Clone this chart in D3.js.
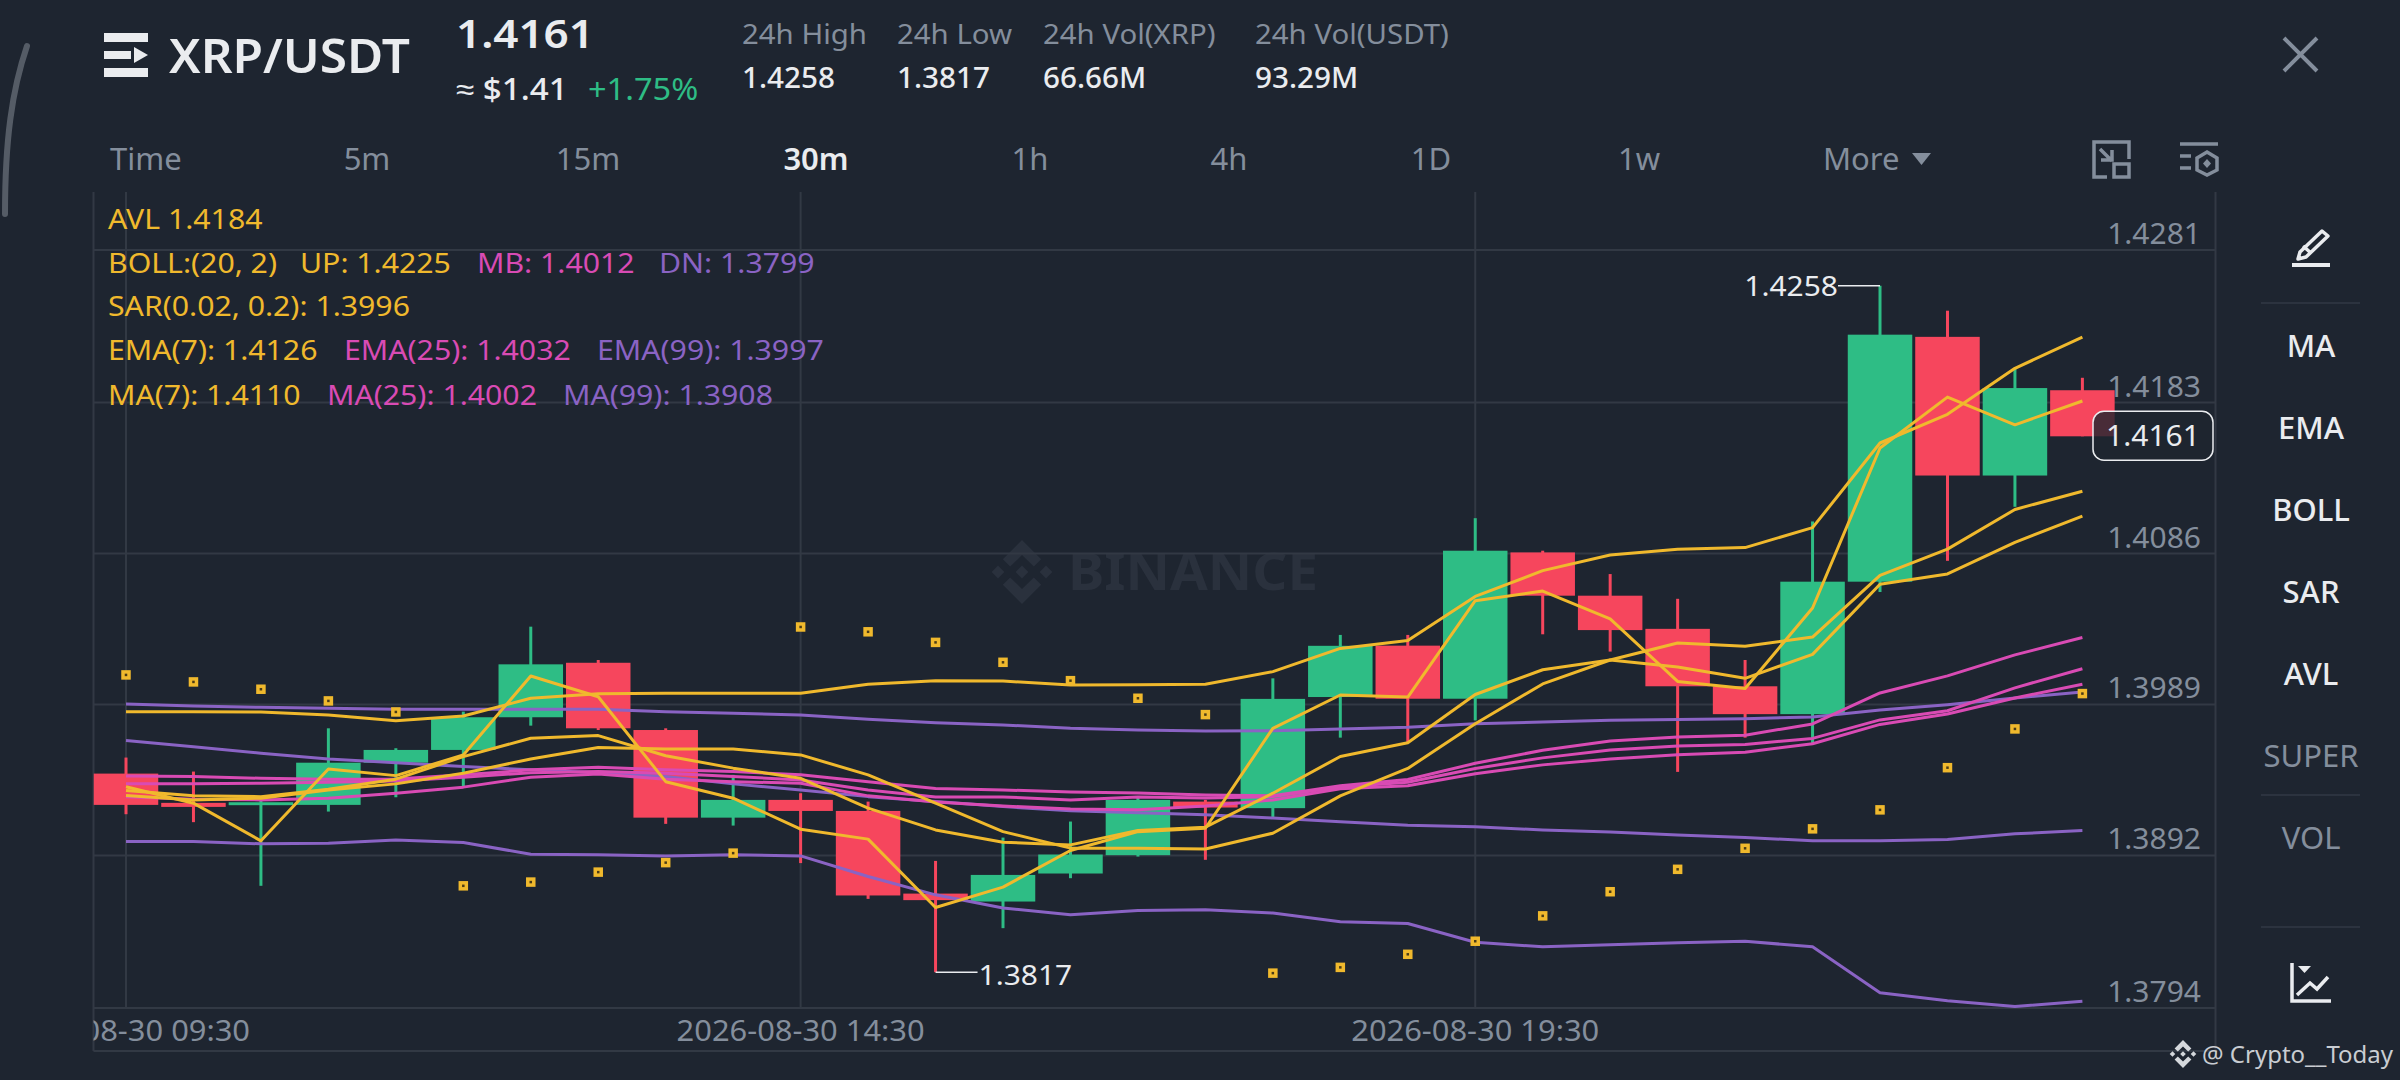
<!DOCTYPE html>
<html>
<head>
<meta charset="utf-8">
<script src="https://cdn.jsdelivr.net/npm/d3@7"></script>
<style>
  html, body { margin: 0; padding: 0; background: #1e2530; overflow: hidden; }
  svg { display: block; font-family: "Noto Sans", sans-serif; }
</style>
</head>
<body>
<svg width="2400" height="1080"></svg>
<script>
// candles, 30m, index 0 is 09:30
const candleOpen = [1.39446,1.39258,1.39243,1.39245,1.39516,1.39598,1.39808,1.40158,1.39726,1.39163,1.39277,1.39206,1.38675,1.38624,1.38804,1.38922,1.39266,1.39224,1.39938,1.40268,1.39927,1.40867,1.40589,1.40376,1.40007,1.39828,1.40679,1.42252,1.41361,1.41909];
const candleClose = [1.39245,1.39232,1.39262,1.39516,1.39598,1.39808,1.40148,1.39737,1.39163,1.39277,1.39206,1.38663,1.38633,1.38795,1.38926,1.39277,1.39228,1.39926,1.40267,1.39927,1.40878,1.40589,1.40368,1.40007,1.39828,1.40679,1.42266,1.41361,1.41923,1.41613];
const candleHigh = [1.39549,1.39459,1.39277,1.39737,1.39609,1.39844,1.4039,1.40176,1.39737,1.39438,1.3932,1.39266,1.38885,1.39035,1.39138,1.39298,1.39277,1.40058,1.40337,1.40337,1.41087,1.40878,1.40728,1.40569,1.40176,1.41066,1.4258,1.4242,1.4205,1.41989];
const candleLow = [1.39185,1.39134,1.38725,1.39202,1.39294,1.39359,1.39754,1.39726,1.39123,1.39112,1.38871,1.38641,1.3817,1.38453,1.38774,1.38913,1.38892,1.3916,1.39677,1.39649,1.39788,1.40341,1.4023,1.39457,1.39677,1.39638,1.40612,1.40813,1.4116,1.41613];

// indicators
const bollUp = [1.39844,1.39844,1.39842,1.39823,1.39786,1.39816,1.3993,1.39959,1.39962,1.39962,1.39962,1.4002,1.40043,1.40041,1.40015,1.40017,1.4002,1.40101,1.4025,1.40301,1.40584,1.4075,1.4085,1.40888,1.40898,1.41026,1.4157,1.41754,1.4205,1.4225];
const avl = [1.39362,1.39256,1.39014,1.39476,1.39433,1.39566,1.40073,1.3994,1.39394,1.39288,1.39089,1.39025,1.38586,1.38717,1.38952,1.39073,1.39095,1.39737,1.39951,1.39938,1.40557,1.40619,1.4044,1.40038,1.39993,1.4051,1.41538,1.41865,1.41687,1.4184];
const ma7 = [1.39337,1.39303,1.39298,1.39346,1.3941,1.39555,1.39673,1.3969,1.39561,1.39481,1.39416,1.39224,1.39084,1.39005,1.38988,1.3908,1.39102,1.3932,1.39556,1.39644,1.39954,1.40113,1.40176,1.40131,1.40058,1.40212,1.40662,1.40729,1.40932,1.4110];
const ema7 = [1.39305,1.39277,1.39288,1.39341,1.3938,1.39448,1.3954,1.39613,1.39604,1.39604,1.39566,1.39438,1.39256,1.39073,1.38967,1.38967,1.38962,1.39063,1.39303,1.39479,1.39766,1.40022,1.40176,1.40285,1.40264,1.40323,1.40719,1.40888,1.41143,1.4126];
const ema25 = [1.39431,1.39427,1.39416,1.3941,1.39412,1.39438,1.3947,1.39487,1.3947,1.39459,1.39438,1.39393,1.3935,1.39341,1.39328,1.39322,1.39309,1.39303,1.39368,1.39408,1.39512,1.39596,1.39656,1.39681,1.39693,1.39765,1.39964,1.40074,1.40209,1.4032];
const bollMb = [1.3938,1.3938,1.39384,1.39391,1.39399,1.39423,1.39452,1.39459,1.39448,1.39427,1.39405,1.39341,1.39296,1.39296,1.39277,1.39296,1.3929,1.39298,1.3936,1.3939,1.39479,1.39547,1.39598,1.39624,1.39633,1.39672,1.39791,1.3985,1.39997,1.4012];
const ma25 = [1.39298,1.39281,1.39277,1.39288,1.3932,1.39359,1.39423,1.39444,1.3941,1.39394,1.39384,1.39303,1.39264,1.39238,1.39219,1.39213,1.39238,1.39277,1.39348,1.39368,1.39445,1.39502,1.3954,1.39567,1.39583,1.39638,1.39762,1.39829,1.39932,1.4002];
const ma99 = [1.39658,1.39619,1.39577,1.3954,1.39516,1.39491,1.3947,1.39452,1.39427,1.3938,1.39341,1.39298,1.39266,1.39234,1.39208,1.39195,1.39181,1.3916,1.39136,1.39114,1.39104,1.39084,1.3907,1.39052,1.39036,1.39014,1.39014,1.39023,1.39059,1.3908];
const ema99 = [1.39893,1.3988,1.39872,1.39866,1.39859,1.39859,1.39859,1.39859,1.39844,1.39834,1.39823,1.39795,1.39773,1.39759,1.39737,1.39726,1.3972,1.39722,1.39733,1.39744,1.39766,1.39778,1.39788,1.39794,1.39799,1.3981,1.39855,1.39889,1.39932,1.3997];
const bollDn = [1.39009,1.39009,1.38995,1.38999,1.3902,1.39003,1.38928,1.38924,1.38917,1.38924,1.38917,1.38785,1.38667,1.38582,1.38539,1.38566,1.38571,1.3855,1.38494,1.38483,1.38362,1.38333,1.38346,1.38359,1.38369,1.38333,1.38038,1.37987,1.37949,1.37983];
const sar = [1.4008,1.40035,1.39988,1.39913,1.39842,1.38725,1.38749,1.38813,1.38874,1.38935,1.40388,1.40357,1.40289,1.40161,1.40043,1.3993,1.39825,1.38164,1.38201,1.38285,1.38369,1.38532,1.38687,1.38831,1.38966,1.39091,1.39213,1.39484,1.39733,1.3996];

const priceTicks = [1.4281, 1.4183, 1.4086, 1.3989, 1.3892, 1.3794];
const timeTickIndex = [0, 10, 20];
const timeTickLabels = ["2026-08-30 09:30", "2026-08-30 14:30", "2026-08-30 19:30"];
const timeframes = ["5m", "15m", "30m", "1h", "4h", "1D", "1w"];
const statLabels = ["24h High", "24h Low", "24h Vol(XRP)", "24h Vol(USDT)"];
const statValues = ["1.4258", "1.3817", "66.66M", "93.29M"];
const sideButtons = ["MA", "EMA", "BOLL", "SAR", "AVL", "SUPER", "VOL"];

const green = "#2ebd85", red = "#f6465d";
const yellow = "#f0b92d", pink = "#d94bb4", purple = "#8a63c4";
const grey = "#848e9c", white = "#eaecef", grid = "#323944";

const svg = d3.select("svg");

const x = d3.scaleLinear().domain([0, 29]).range([126, 2082.4]);
const y = d3.scaleLinear().domain([1.3794, 1.4281]).range([1008, 250]);

const plotLeft = 93.5, plotRight = 2215.5, plotTop = 192, plotBottom = 1008, axisBottom = 1051;
const candleWidth = 64.5;

svg.append("defs").append("clipPath").attr("id", "plot-clip")
  .append("rect")
  .attr("x", plotLeft).attr("y", 0)
  .attr("width", plotRight - plotLeft).attr("height", 1080);

// the screenshot is a little wider than tall, so text gets an x stretch
function addText(g, txt, px, py, size, fill, weight, anchor, stretch) {
  return g.append("text")
    .attr("transform", `translate(${px},${py}) scale(${stretch || 1},1)`)
    .attr("font-size", size)
    .attr("font-weight", weight || 400)
    .attr("text-anchor", anchor || "start")
    .attr("fill", fill)
    .text(txt);
}

function drawLogo(g, cx, cy, r, color) {
  const shapes = [
    "M0,-.2L.2,0L0,.2L-.2,0Z",
    "M-.75,-.2L-.55,0L-.75,.2L-.95,0Z",
    "M.75,-.2L.95,0L.75,.2L.55,0Z",
    "M0,-1L.6,-.4L.37,-.17L0,-.53L-.37,-.17L-.6,-.4Z",
    "M0,1L.6,.4L.37,.17L0,.53L-.37,.17L-.6,.4Z"
  ];
  g.append("g")
    .attr("transform", `translate(${cx},${cy}) scale(${r})`)
    .selectAll("path").data(shapes).join("path")
    .attr("d", d => d).attr("fill", color);
}

// left edge handle
svg.append("path")
  .attr("d", "M27,46C12,90 5,140 5,214")
  .attr("fill", "none").attr("stroke", "#555c66").attr("stroke-width", 6).attr("stroke-linecap", "round");

// header
const header = svg.append("g");
header.append("rect").attr("x", 104).attr("y", 33).attr("width", 44).attr("height", 9).attr("fill", white);
header.append("rect").attr("x", 104).attr("y", 51).attr("width", 27).attr("height", 8).attr("fill", white);
header.append("path").attr("d", "M134,47L148,55L134,63Z").attr("fill", white);
header.append("rect").attr("x", 104).attr("y", 68).attr("width", 44).attr("height", 9).attr("fill", white);
addText(header, "XRP/USDT", 169, 73, 47, white, 600, "start", 1.055);
addText(header, "1.4161", 456, 48, 40, white, 600, "start", 1.1);
addText(header, "≈ $1.41", 456, 100, 31, white, 500, "start", 1.07);
addText(header, "+1.75%", 588, 100, 31, green, 400, "start", 1.05);

const statX = [742, 897, 1043, 1255];
statLabels.forEach((d, i) => {
  addText(header, d, statX[i], 44, 28, grey, 400, "start", 1.05);
  addText(header, statValues[i], statX[i], 88, 28, white, 500, "start", 1.06);
});

header.append("path").attr("d", "M2284,38L2317,71M2317,38L2284,71")
  .attr("stroke", grey).attr("stroke-width", 4).attr("fill", "none");

// timeframe row
const tabs = svg.append("g");
addText(tabs, "Time", 110, 170, 31, grey);
const tabX = [367, 588, 816, 1030, 1229, 1431, 1639];
timeframes.forEach((d, i) => {
  const active = d === "30m";
  addText(tabs, d, tabX[i], 170, 31, active ? white : grey, active ? 600 : 400, "middle");
});
addText(tabs, "More", 1823, 170, 31, grey);
tabs.append("path").attr("d", "M1912,153L1931,153L1921.5,165Z").attr("fill", grey);

const iconA = tabs.append("g").attr("fill", "none").attr("stroke", grey).attr("stroke-width", 3.5);
iconA.append("path").attr("d", "M2107,177H2094V142H2129V159");
iconA.append("rect").attr("x", 2114).attr("y", 164).attr("width", 15).attr("height", 13);
iconA.append("path").attr("d", "M2100,149L2112,161M2101,160H2112V150");
const iconB = tabs.append("g").attr("fill", "none").attr("stroke", grey).attr("stroke-width", 3.5);
iconB.append("path").attr("d", "M2180,144H2218M2180,156H2191M2180,168H2191");
iconB.append("path").attr("d", "M2207,152L2217,158V170L2207,175L2197,170V158Z");
tabs.append("path").attr("d", "M2207,159L2211,163.500L2207,168L2203,163.500Z").attr("fill", grey);

// watermark
drawLogo(svg, 1022, 572, 32, "#2a313d");
addText(svg, "BINANCE", 1068, 590, 52, "#2a313d", 700)
  .attr("textLength", 250).attr("lengthAdjust", "spacingAndGlyphs");

// grid
const gridG = svg.append("g").attr("stroke", grid).attr("stroke-width", 2);
gridG.selectAll("line.h").data(priceTicks).join("line").attr("class", "h")
  .attr("x1", plotLeft).attr("x2", plotRight)
  .attr("y1", d => y(d)).attr("y2", d => y(d));
gridG.selectAll("line.v").data(timeTickIndex).join("line").attr("class", "v")
  .attr("x1", d => x(d)).attr("x2", d => x(d))
  .attr("y1", plotTop).attr("y2", plotBottom);
gridG.append("line").attr("x1", plotLeft).attr("x2", plotLeft).attr("y1", plotTop).attr("y2", axisBottom);
gridG.append("line").attr("x1", plotRight).attr("x2", plotRight).attr("y1", plotTop).attr("y2", axisBottom);
gridG.append("line").attr("x1", plotLeft).attr("x2", plotRight).attr("y1", axisBottom).attr("y2", axisBottom);

// time ticks, clipped at the plot edge
const timeG = svg.append("g").attr("clip-path", "url(#plot-clip)");
timeTickIndex.forEach((d, i) => {
  addText(timeG, timeTickLabels[i], x(d), 1041, 29, grey, 400, "middle", 1.065);
});

// candles
const candles = candleOpen.map((o, i) => ({
  i, open: o, close: candleClose[i], high: candleHigh[i], low: candleLow[i]
}));
const candleColor = d => d.close >= d.open ? green : red;

const candleG = svg.append("g");
candleG.selectAll("line").data(candles).join("line")
  .attr("x1", d => x(d.i)).attr("x2", d => x(d.i))
  .attr("y1", d => y(d.high)).attr("y2", d => y(d.low))
  .attr("stroke", candleColor).attr("stroke-width", 3);
candleG.selectAll("rect").data(candles).join("rect")
  .attr("x", d => x(d.i) - candleWidth / 2)
  .attr("width", candleWidth)
  .attr("y", d => y(Math.max(d.open, d.close)))
  .attr("height", d => Math.abs(y(d.open) - y(d.close)))
  .attr("fill", candleColor);

// indicator lines
const line = d3.line().x((d, i) => x(i)).y(d => y(d));
const indicators = [
  [ma99, purple], [ema99, purple], [bollDn, purple],
  [ma25, pink], [bollMb, pink], [ema25, pink],
  [bollUp, yellow], [ma7, yellow], [ema7, yellow], [avl, yellow]
];
svg.append("g").attr("fill", "none").attr("stroke-width", 3).attr("stroke-linejoin", "round")
  .selectAll("path").data(indicators).join("path")
  .attr("d", d => line(d[0]))
  .attr("stroke", d => d[1]);

// SAR dots
svg.append("g").selectAll("rect").data(sar).join("rect")
  .attr("x", (d, i) => x(i) - 3).attr("y", d => y(d) - 3)
  .attr("width", 6).attr("height", 6)
  .attr("fill", "#4a3b16").attr("stroke", yellow).attr("stroke-width", 3.5);

// high and low marks
const hiIdx = d3.maxIndex(candleHigh), loIdx = d3.minIndex(candleLow);
const marks = svg.append("g");
marks.append("line").attr("x1", x(hiIdx) - 42).attr("x2", x(hiIdx))
  .attr("y1", y(candleHigh[hiIdx])).attr("y2", y(candleHigh[hiIdx]))
  .attr("stroke", white).attr("stroke-width", 1.5);
addText(marks, "1.4258", x(hiIdx) - 42, y(candleHigh[hiIdx]) + 10, 28, white, 400, "end", 1.07);
marks.append("line").attr("x1", x(loIdx)).attr("x2", x(loIdx) + 42)
  .attr("y1", y(candleLow[loIdx])).attr("y2", y(candleLow[loIdx]))
  .attr("stroke", white).attr("stroke-width", 1.5);
addText(marks, "1.3817", x(loIdx) + 43, y(candleLow[loIdx]) + 13, 28, white, 400, "start", 1.07);

// legend block
const legend = svg.append("g");
const legendText = (txt, px, py, color) => addText(legend, txt, px, py, 28, color, 400, "start", 1.08);
legendText("AVL 1.4184", 108, 229, yellow);
legendText("BOLL:(20, 2)", 108, 273, yellow);
legendText("UP: 1.4225", 300, 273, yellow);
legendText("MB: 1.4012", 477, 273, pink);
legendText("DN: 1.3799", 659, 273, purple);
legendText("SAR(0.02, 0.2): 1.3996", 108, 316, yellow);
legendText("EMA(7): 1.4126", 108, 360, yellow);
legendText("EMA(25): 1.4032", 344, 360, pink);
legendText("EMA(99): 1.3997", 597, 360, purple);
legendText("MA(7): 1.4110", 108, 405, yellow);
legendText("MA(25): 1.4002", 327, 405, pink);
legendText("MA(99): 1.3908", 563, 405, purple);

// price labels
const priceG = svg.append("g");
priceTicks.forEach(d => {
  addText(priceG, d.toFixed(4), 2201, y(d) - 6, 29, grey, 400, "end", 1.035);
});

// current price box
const lastClose = candleClose[candleClose.length - 1];
svg.append("rect")
  .attr("x", 2093).attr("y", y(lastClose) - 25)
  .attr("width", 120).attr("height", 49).attr("rx", 11)
  .attr("fill", "#1e2530").attr("fill-opacity", 0.8)
  .attr("stroke", white).attr("stroke-width", 1.5);
addText(svg, lastClose.toFixed(4), 2153, y(lastClose) + 10, 29, white, 400, "middle", 1.035);

// side panel
const side = svg.append("g");
const sideY = [357, 439, 521, 603, 685, 767, 849];
sideButtons.forEach((d, i) => {
  addText(side, d, 2311, sideY[i], 31, i < 5 ? white : grey, i < 5 ? 500 : 400, "middle");
});
[303, 795, 927].forEach(py => {
  side.append("line").attr("x1", 2261).attr("x2", 2360).attr("y1", py).attr("y2", py)
    .attr("stroke", grid).attr("stroke-width", 1.5);
});

// pencil
side.append("path")
  .attr("d", "M2322,231L2328,236L2306,257L2298,259L2300,252Z M2303,246L2311,253")
  .attr("fill", "none").attr("stroke", white).attr("stroke-width", 3.500).attr("stroke-linejoin", "round");
side.append("rect").attr("x", 2292).attr("y", 263).attr("width", 38).attr("height", 4).attr("fill", white);

// chart icon
side.append("path").attr("d", "M2292,963V1001H2331M2297,995L2310,983L2317,989L2328,977")
  .attr("fill", "none").attr("stroke", white).attr("stroke-width", 3.500);
side.append("path").attr("d", "M2298,966H2311L2304.500,973Z").attr("fill", white);

// credit
drawLogo(svg, 2183, 1054, 14, "#d5d8dc");
addText(svg, "@ Crypto__Today", 2202, 1063, 24, "#c9cdd2");
</script>
</body>
</html>
